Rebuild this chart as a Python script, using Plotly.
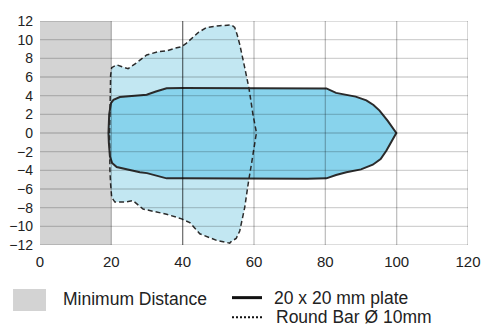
import plotly.graph_objects as go

# detection field outlines (distance in mm, offset in mm)
MIN_DISTANCE = 20

plate_x = [19.2, 19.4, 19.9, 20.6, 22.4, 26, 29.9, 32.5, 35.5, 40, 60, 75, 80.3, 83, 85.4, 88.5, 91.5, 93.5,
           95.2, 97.5, 99.9, 98.5, 97.1, 95.5, 93.3, 90, 85.9, 83, 80.3, 75, 60, 40, 35.5, 32, 30, 28, 24,
           21.5, 20.2, 19.6, 19.3, 19.2]
plate_y = [0, 2.0, 3.2, 3.55, 3.85, 4.0, 4.1, 4.45, 4.8, 4.82, 4.8, 4.78, 4.78, 4.3, 4.1, 3.9, 3.5, 3.0,
           2.4, 1.3, 0, -1.0, -1.9, -2.8, -3.4, -3.9, -4.2, -4.5, -4.86, -4.9, -4.85, -4.85, -4.86, -4.5,
           -4.3, -4.2, -3.9, -3.65, -3.2, -2.5, -1, 0]

bar_x = [19.5, 19.6, 19.8, 20.1, 21.5, 23, 24.7, 27, 29.9, 33, 35.5, 38, 39.7, 41, 42.9, 44.5, 46.7, 50.4,
         53.7, 54.6, 55.3, 56, 57.4, 58.6, 59.7, 60.7, 60.5, 59.9, 59.3, 58.5, 57.4, 56, 55, 53.7, 53.2,
         49.5, 44.8, 42, 39.7, 35.5, 28.9, 26.1, 23.8, 21, 20.1, 19.8, 19.6, 19.5]
bar_y = [0, 4.2, 6.2, 7.0, 7.3, 7.1, 6.9, 7.5, 8.36, 8.7, 8.8, 9.1, 9.25, 9.6, 10.25, 10.8, 11.3, 11.5,
         11.57, 11.3, 10.5, 9.5, 7.0, 4.78, 2.0, 0, -0.4, -2, -3.3, -5.1, -7.97, -10.5, -11.3, -11.6, -11.8,
         -11.5, -10.8, -9.6, -9.2, -8.7, -8.15, -7.25, -7.4, -7.4, -6.9, -5.5, -4, 0]

x_ticks = [0, 20, 40, 60, 80, 100, 120]
y_ticks = list(range(-12, 13, 2))

FONT = "Liberation Sans, Arial, sans-serif"
TXT = "#222222"

fig = go.Figure()
fig.add_trace(go.Scatter(x=bar_x, y=bar_y, fill="toself", fillcolor="#c2e7f2", mode="lines",
                         line={"width": 0}, hoverinfo="skip"))
fig.add_trace(go.Scatter(x=plate_x, y=plate_y, fill="toself", fillcolor="#88d3ec", mode="lines",
                         line={"color": "#2b2b2b", "width": 2}, name="20 x 20 mm plate"))
fig.add_trace(go.Scatter(x=bar_x, y=bar_y, mode="lines",
                         line={"color": "#2b2b2b", "width": 1.5, "dash": "5px,3px"}, name="Round Bar"))

# minimum distance zone
fig.add_shape(type="rect", x0=0, x1=MIN_DISTANCE, y0=y_ticks[0], y1=y_ticks[-1],
              fillcolor="#d3d3d3", line={"width": 0}, layer="below")

# gridlines drawn over the fills, like the original
for yv in y_ticks:
    fig.add_shape(type="line", x0=x_ticks[0], x1=x_ticks[-1], y0=yv, y1=yv,
                  line={"color": "rgba(0,0,0,0.18)", "width": 1.3}, layer="above")
for xv in x_ticks[1:]:
    col = "rgba(0,0,0,0.55)" if xv == 40 else "rgba(0,0,0,0.25)"
    fig.add_shape(type="line", x0=xv, x1=xv, y0=y_ticks[0], y1=y_ticks[-1],
                  line={"color": col, "width": 1.3}, layer="above")

# legend drawn by hand (two columns)
fig.add_shape(type="rect", xref="paper", yref="paper", x0=-0.063, x1=0.014, y0=-0.295, y1=-0.196,
              fillcolor="#d3d3d3", line={"width": 0})
fig.add_shape(type="line", xref="paper", yref="paper", x0=0.4486, x1=0.5187, y0=-0.235, y1=-0.235,
              line={"color": "#111111", "width": 3})
fig.add_shape(type="line", xref="paper", yref="paper", x0=0.4486, x1=0.5187, y0=-0.323, y1=-0.323,
              line={"color": "#111111", "width": 2, "dash": "2px,2px"})
for tx, ty, label in [(0.049, -0.241, "Minimum Distance"), (0.542, -0.235, "20 x 20 mm plate"),
                      (0.547, -0.320, "Round Bar Ø 10mm")]:
    fig.add_annotation(x=tx, y=ty, xref="paper", yref="paper", text=label, showarrow=False,
                       xanchor="left", yanchor="middle", font={"size": 17.5, "color": TXT, "family": FONT})

fig.update_xaxes(range=[0, 120], tickvals=x_ticks, showgrid=False, zeroline=False, showline=False,
                 tickfont={"size": 15, "color": TXT, "family": FONT}, ticklabelstandoff=6, automargin=False)
fig.update_yaxes(range=[-12, 12], tickvals=y_ticks, showgrid=False, zeroline=False, showline=False,
                 tickfont={"size": 14, "color": TXT, "family": FONT}, ticklabelstandoff=6, automargin=False)
# page body keeps its 8px default margin, so the figure is sized to sit inside the window
fig.update_layout(width=473, height=320, margin={"l": 32, "r": 13, "t": 13, "b": 83},
                  paper_bgcolor="white", plot_bgcolor="white", showlegend=False)

fig.write_html("out.html")
